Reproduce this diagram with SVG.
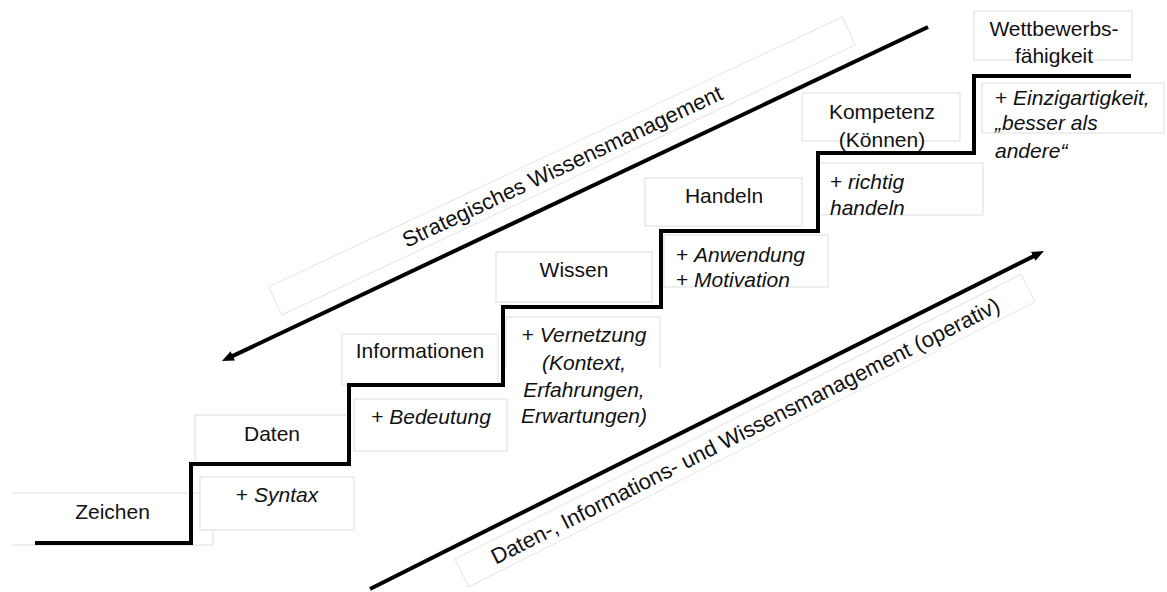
<svg xmlns="http://www.w3.org/2000/svg" width="1167" height="592" viewBox="0 0 1167 592">
<style>
.box{fill:#fff;stroke:#dedede;stroke-width:1}
.rbox{fill:#fff;stroke:#e6e6e6;stroke-width:1}
.t{font-family:"Liberation Sans",Arial,sans-serif;font-size:21px;fill:#111}
.m{text-anchor:middle}
.i{font-style:italic}
.rt{font-family:"Liberation Sans",Arial,sans-serif;font-size:22px;fill:#111;text-anchor:middle}
.stair{fill:none;stroke:#000;stroke-width:4;stroke-linejoin:miter}
.arr{fill:none;stroke:#000;stroke-width:4}
</style>
<defs>
<marker id="ah" viewBox="0 0 12 10" refX="4" refY="5" markerWidth="12" markerHeight="10" markerUnits="userSpaceOnUse" orient="auto">
<path d="M0,0 L12,5 L0,10 z" fill="#000"/>
</marker>
</defs>
<rect width="1167" height="592" fill="#fff"/>

<g id="zeichen">
<path class="box" d="M12,493 H213 V545 H12"/>
<text class="t m" x="112.5" y="519">Zeichen</text>
</g>
<g id="syntax">
<rect class="box" x="200" y="477" width="154" height="53"/>
<text class="t m" x="277" y="502">+ <tspan class="i">Syntax</tspan></text>
</g>
<g id="daten">
<rect class="box" x="195" y="415" width="155" height="49"/>
<text class="t m" x="272" y="441">Daten</text>
</g>
<g id="bedeutung">
<rect class="box" x="354" y="399" width="153" height="52"/>
<text class="t m" x="431" y="424">+ <tspan class="i">Bedeutung</tspan></text>
</g>
<g id="informationen">
<rect class="box" x="342" y="334" width="156" height="51"/>
<text class="t m" x="420" y="358">Informationen</text>
</g>
<g id="vernetzung">
<path class="box" d="M506,368 L506,317 L660,317 L660,368"/>
<text class="t m" x="584" y="342">+ <tspan class="i">Vernetzung</tspan></text>
<text class="t m i" x="584" y="370">(Kontext,</text>
<text class="t m i" x="584" y="397">Erfahrungen,</text>
<text class="t m i" x="584" y="423">Erwartungen)</text>
</g>
<g id="wissen">
<rect class="box" x="496" y="252" width="156" height="50"/>
<text class="t m" x="574" y="277">Wissen</text>
</g>
<g id="anwendung">
<rect class="box" x="664" y="235" width="164" height="52"/>
<text class="t" x="676" y="262">+ <tspan class="i">Anwendung</tspan></text>
<text class="t" x="676" y="287">+ <tspan class="i">Motivation</tspan></text>
</g>
<g id="handeln">
<rect class="box" x="645" y="178" width="157" height="48"/>
<text class="t m" x="724" y="203">Handeln</text>
</g>
<g id="richtig">
<rect class="box" x="819" y="163" width="164" height="52"/>
<text class="t" x="830" y="189">+ <tspan class="i">richtig</tspan></text>
<text class="t i" x="830" y="215">handeln</text>
</g>
<g id="kompetenz">
<rect class="box" x="802" y="93" width="158" height="48"/>
<text class="t m" x="882" y="119">Kompetenz</text>
<text class="t m" x="882" y="147">(Können)</text>
</g>
<g id="einzigartigkeit">
<rect class="box" x="982" y="83" width="182" height="50"/>
<text class="t" x="995" y="105">+ <tspan class="i">Einzigartigkeit,</tspan></text>
<text class="t i" x="995" y="130">„besser als</text>
<text class="t i" x="995" y="158">andere“</text>
</g>
<g id="wettbewerb">
<rect class="box" x="974" y="11" width="158" height="49"/>
<text class="t m" x="1054" y="36">Wettbewerbs-</text>
<text class="t m" x="1054" y="63">fähigkeit</text>
</g>

<g id="staircase">
<path class="stair" d="M35,543 H191 V464 H349 V385 H503 V307 H661 V231 H818 V153 H974 V76 H1131"/>
</g>

<g id="strategisch">
<g transform="translate(562,166) rotate(-25.2)">
<rect class="rbox" x="-317" y="-15.5" width="634" height="31"/>
<text class="rt" x="0" y="8">Strategisches Wissensmanagement</text>
</g>
</g>
<g id="operativ">
<g transform="translate(745,430.5) rotate(-26.7)">
<rect class="rbox" x="-317" y="-15.5" width="634" height="31"/>
<text class="rt" x="0" y="8">Daten-, Informations- und Wissensmanagement (operativ)</text>
</g>
</g>

<g id="connectors">
<line class="arr" x1="928" y1="27" x2="229.2" y2="357.6" marker-end="url(#ah)"/>
<line class="arr" x1="370" y1="589" x2="1036.8" y2="254.6" marker-end="url(#ah)"/>
</g>
</svg>
